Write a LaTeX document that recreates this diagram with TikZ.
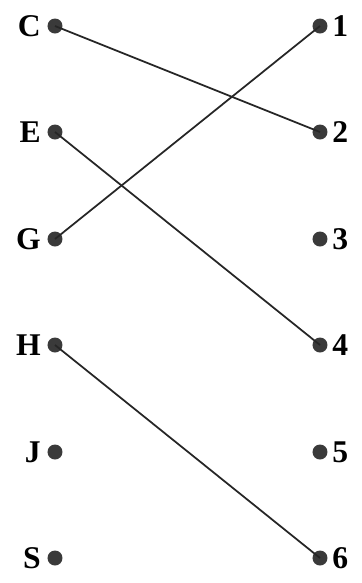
\documentclass[tikz,border=0pt]{standalone}
\usepackage{fontspec}
\setmainfont{Liberation Serif}
\definecolor{dotgray}{HTML}{3A3A3A}
\definecolor{linedark}{HTML}{262626}

\begin{document}
\begin{tikzpicture}[x=0.02cm,y=-0.02cm,font=\fontsize{18}{20}\selectfont]
  \tikzset{
    dot/.style={circle,fill=dotgray,inner sep=0pt,minimum size=15*0.02cm},
    letterlabel/.style={anchor=east,inner sep=0pt,font=\fontsize{18}{20}\selectfont\bfseries},
    numberlabel/.style={anchor=west,inner sep=0pt,font=\fontsize{18}{20}\selectfont\bfseries},
    pairline/.style={linedark,line width=1pt}
  }
  \useasboundingbox (0,0) rectangle (362,583);
  \def\leftx{55}
  \def\rightx{320}

  \foreach \name/\yy in {C/26,E/132,G/239,H/345,J/452,S/558} {
    \node[dot] (l\name) at (\leftx,\yy) {};
    \node[letterlabel] (t\name) at (\leftx-14,\yy) {\name};
  }
  \foreach \name/\yy in {1/26,2/132,3/239,4/345,5/452,6/558} {
    \node[dot] (r\name) at (\rightx,\yy) {};
    \node[numberlabel] (t\name) at (\rightx+12,\yy) {\name};
  }

  \draw[pairline] (lC.center) -- (r2.center);
  \draw[pairline] (lE.center) -- (r4.center);
  \draw[pairline] (lG.center) -- (r1.center);
  \draw[pairline] (lH.center) -- (r6.center);
\end{tikzpicture}
\end{document}
